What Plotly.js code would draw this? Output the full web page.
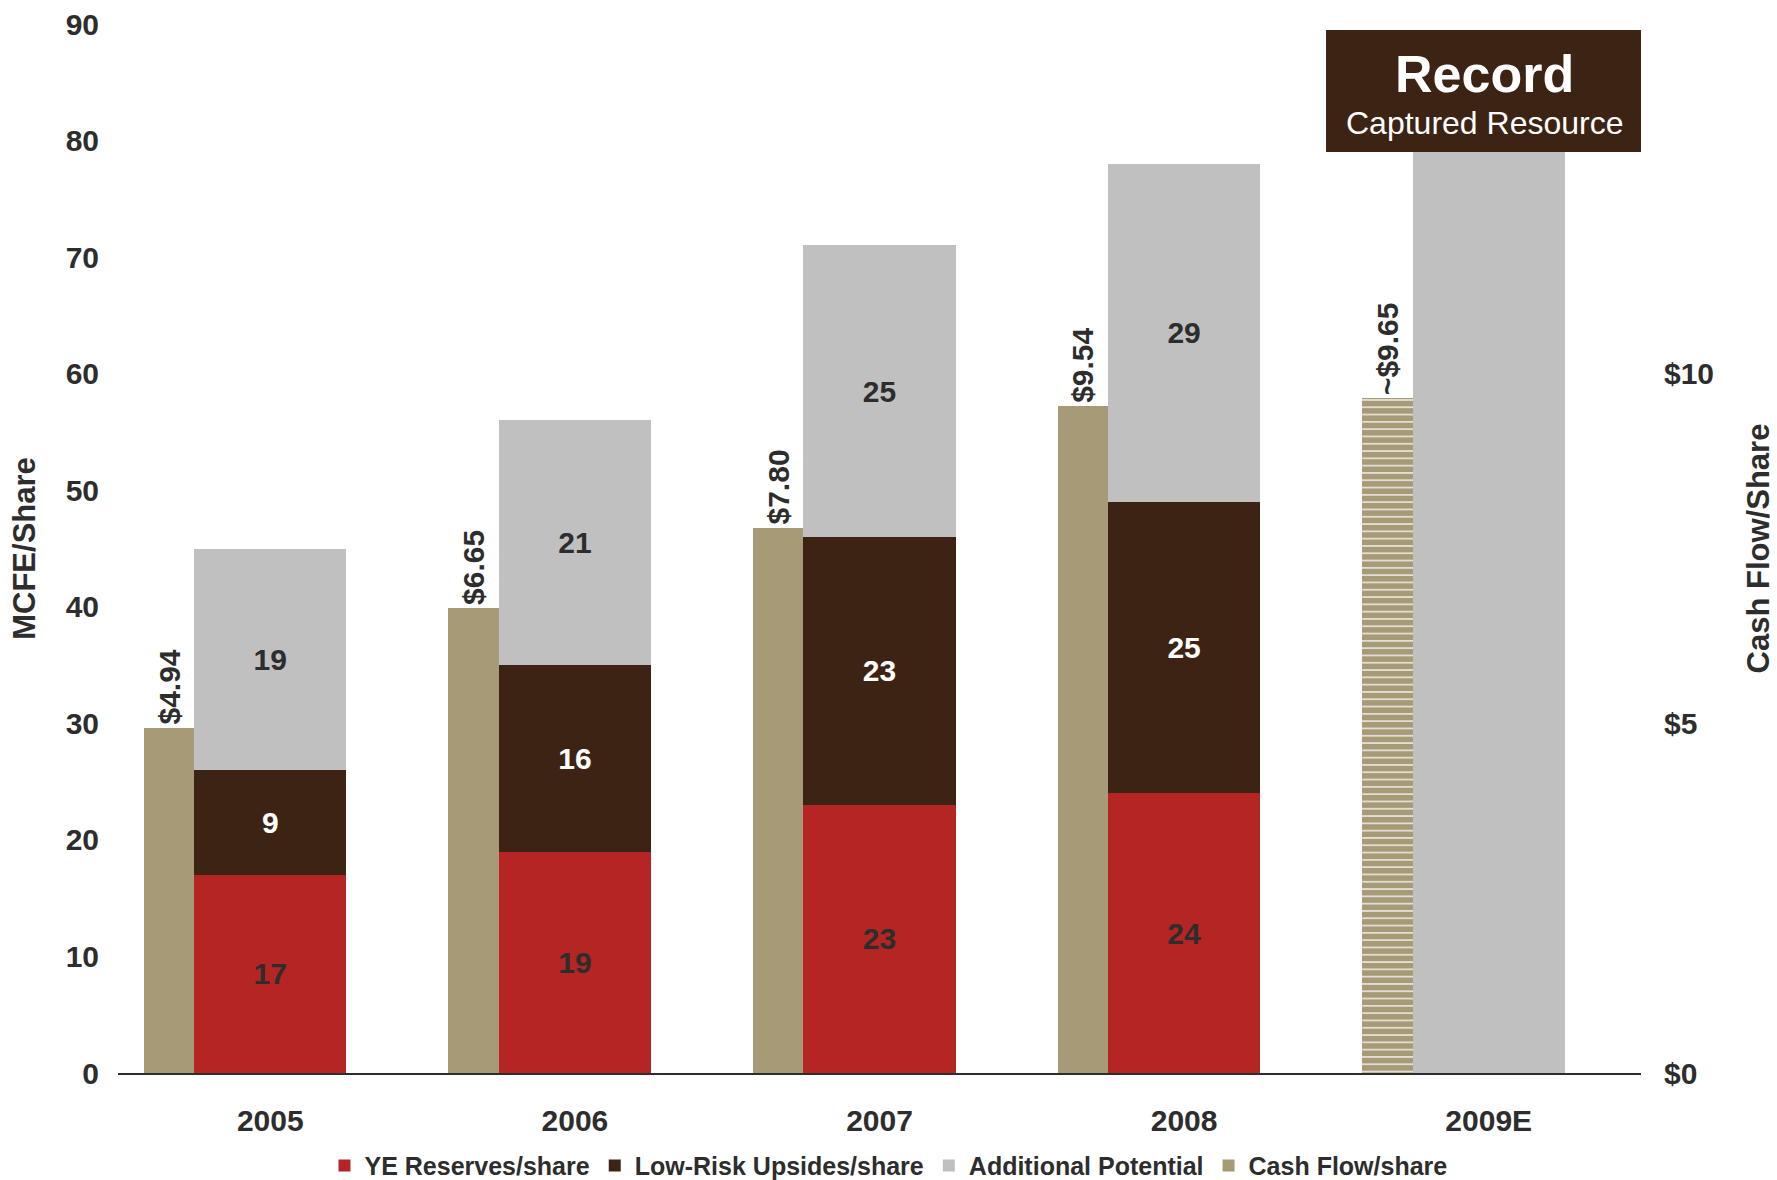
<!DOCTYPE html>
<html>
<head>
<meta charset="utf-8">
<script src="https://cdn.plot.ly/plotly-3.0.1.min.js"></script>
<style>html,body{margin:0;padding:0;background:#fff;}#chart{width:1777px;height:1180px;}</style>
</head>
<body>
<div id="chart"></div>
<script>
// ---- data ----
const categories = ['2005', '2006', '2007', '2008', '2009E'];
const yeReserves = [17, 19, 23, 24, null];
const lowRiskUpsides = [9, 16, 23, 25, null];
const additionalPotential = [19, 21, 25, 29, 82];
const additionalLabels = ['19', '21', '25', '29', ''];
const cashFlow = [4.94, 6.65, 7.80, 9.54, 9.65];
const cashFlowLabels = ['$4.94', '$6.65', '$7.80', '$9.54', '~$9.65'];
const leftTickVals = [0, 10, 20, 30, 40, 50, 60, 70, 80, 90];
const rightTickVals = [0, 5, 10];
const rightTickText = ['$0', '$5', '$10'];
const seriesNames = ['YE Reserves/share', 'Low-Risk Upsides/share', 'Additional Potential', 'Cash Flow/share'];

// ---- styles ----
const FONT = 'Liberation Sans, Arial, Helvetica, sans-serif';
const TXT = '#2d2d2d';
const RED = '#b52524';
const BROWN = '#3d2314';
const GREY = '#c0c0c0';
const TAN = '#a69a77';

function labelsOf(arr) { return arr.map(v => (v === null ? '' : String(v))); }

const stackCommon = {
  type: 'bar', x: categories, width: 0.5, textposition: 'inside',
  insidetextanchor: 'middle', constraintext: 'none', hoverinfo: 'skip',
  marker: {line: {width: 0}}
};

const traces = [
  Object.assign({}, stackCommon, {
    name: seriesNames[0], y: yeReserves, text: labelsOf(yeReserves),
    marker: {color: RED, line: {width: 0}},
    insidetextfont: {family: FONT, size: 30, weight: 'bold', color: TXT}
  }),
  Object.assign({}, stackCommon, {
    name: seriesNames[1], y: lowRiskUpsides, text: labelsOf(lowRiskUpsides),
    marker: {color: BROWN, line: {width: 0}},
    insidetextfont: {family: FONT, size: 30, weight: 'bold', color: '#ffffff'}
  }),
  Object.assign({}, stackCommon, {
    name: seriesNames[2], y: additionalPotential, text: additionalLabels,
    marker: {color: GREY, line: {width: 0}},
    insidetextfont: {family: FONT, size: 30, weight: 'bold', color: TXT}
  }),
  {
    type: 'bar', name: seriesNames[3], x: categories, y: cashFlow, yaxis: 'y2',
    width: 0.165, offset: -0.415, text: cashFlowLabels, textposition: 'outside',
    textangle: -90, constraintext: 'none', cliponaxis: false, hoverinfo: 'skip',
    outsidetextfont: {family: FONT, size: 30, weight: 'bold', color: TXT},
    marker: {
      color: TAN, line: {width: 0},
      pattern: {shape: ['', '', '', '', '-'], fillmode: 'replace', bgcolor: TAN,
                fgcolor: '#ebe7de', size: 7.3, solidity: 0.22}
    }
  }
];

const layout = {
  width: 1777, height: 1180,
  margin: {l: 118, r: 136, t: 24, b: 107, pad: 0},
  paper_bgcolor: '#ffffff', plot_bgcolor: '#ffffff',
  font: {family: FONT, color: TXT},
  barmode: 'stack',
  showlegend: true,
  legend: {
    orientation: 'h', xref: 'container', yref: 'container', x: 0.5, xanchor: 'center',
    y: 0.012, yanchor: 'middle', traceorder: 'normal',
    font: {family: FONT, size: 25, weight: 'bold', color: TXT}
  },
  xaxis: {
    type: 'category', range: [-0.5, 4.5], showgrid: false, zeroline: false,
    showline: true, linecolor: '#2d2d2d', linewidth: 2, ticks: '',
    tickfont: {family: FONT, size: 30, weight: 'bold', color: TXT},
    ticklabelstandoff: 20, fixedrange: true
  },
  yaxis: {
    range: [0, 90], tickvals: leftTickVals, showgrid: false, zeroline: false,
    showline: false, ticks: '', ticklabelstandoff: 18, automargin: false,
    tickfont: {family: FONT, size: 30, weight: 'bold', color: TXT},
    title: {text: 'MCFE/Share', standoff: 20, font: {family: FONT, size: 31, weight: 'bold', color: TXT}}
  },
  yaxis2: {
    overlaying: 'y', side: 'right', range: [0, 15], tickvals: rightTickVals,
    ticktext: rightTickText, showgrid: false, zeroline: false, showline: false,
    ticks: '', ticklabelstandoff: 22, automargin: false,
    tickfont: {family: FONT, size: 30, weight: 'bold', color: TXT},
    title: {text: 'Cash Flow/Share', standoff: 34, font: {family: FONT, size: 31, weight: 'bold', color: TXT}}
  },
  shapes: [{
    type: 'rect', xref: 'paper', yref: 'paper', x0: 0.7932, x1: 1.0, y0: 0.878, y1: 0.9943,
    fillcolor: BROWN, line: {width: 0}, layer: 'above'
  }],
  annotations: [
    {xref: 'paper', yref: 'paper', x: 0.897, y: 0.952, text: 'Record', showarrow: false,
     xanchor: 'center', yanchor: 'middle',
     font: {family: FONT, size: 52, weight: 'bold', color: '#ffffff'}},
    {xref: 'paper', yref: 'paper', x: 0.897, y: 0.906, text: 'Captured Resource', showarrow: false,
     xanchor: 'center', yanchor: 'middle',
     font: {family: FONT, size: 32, color: '#ffffff'}}
  ]
};

Plotly.newPlot('chart', traces, layout, {displayModeBar: false, staticPlot: true});
</script>
</body>
</html>
